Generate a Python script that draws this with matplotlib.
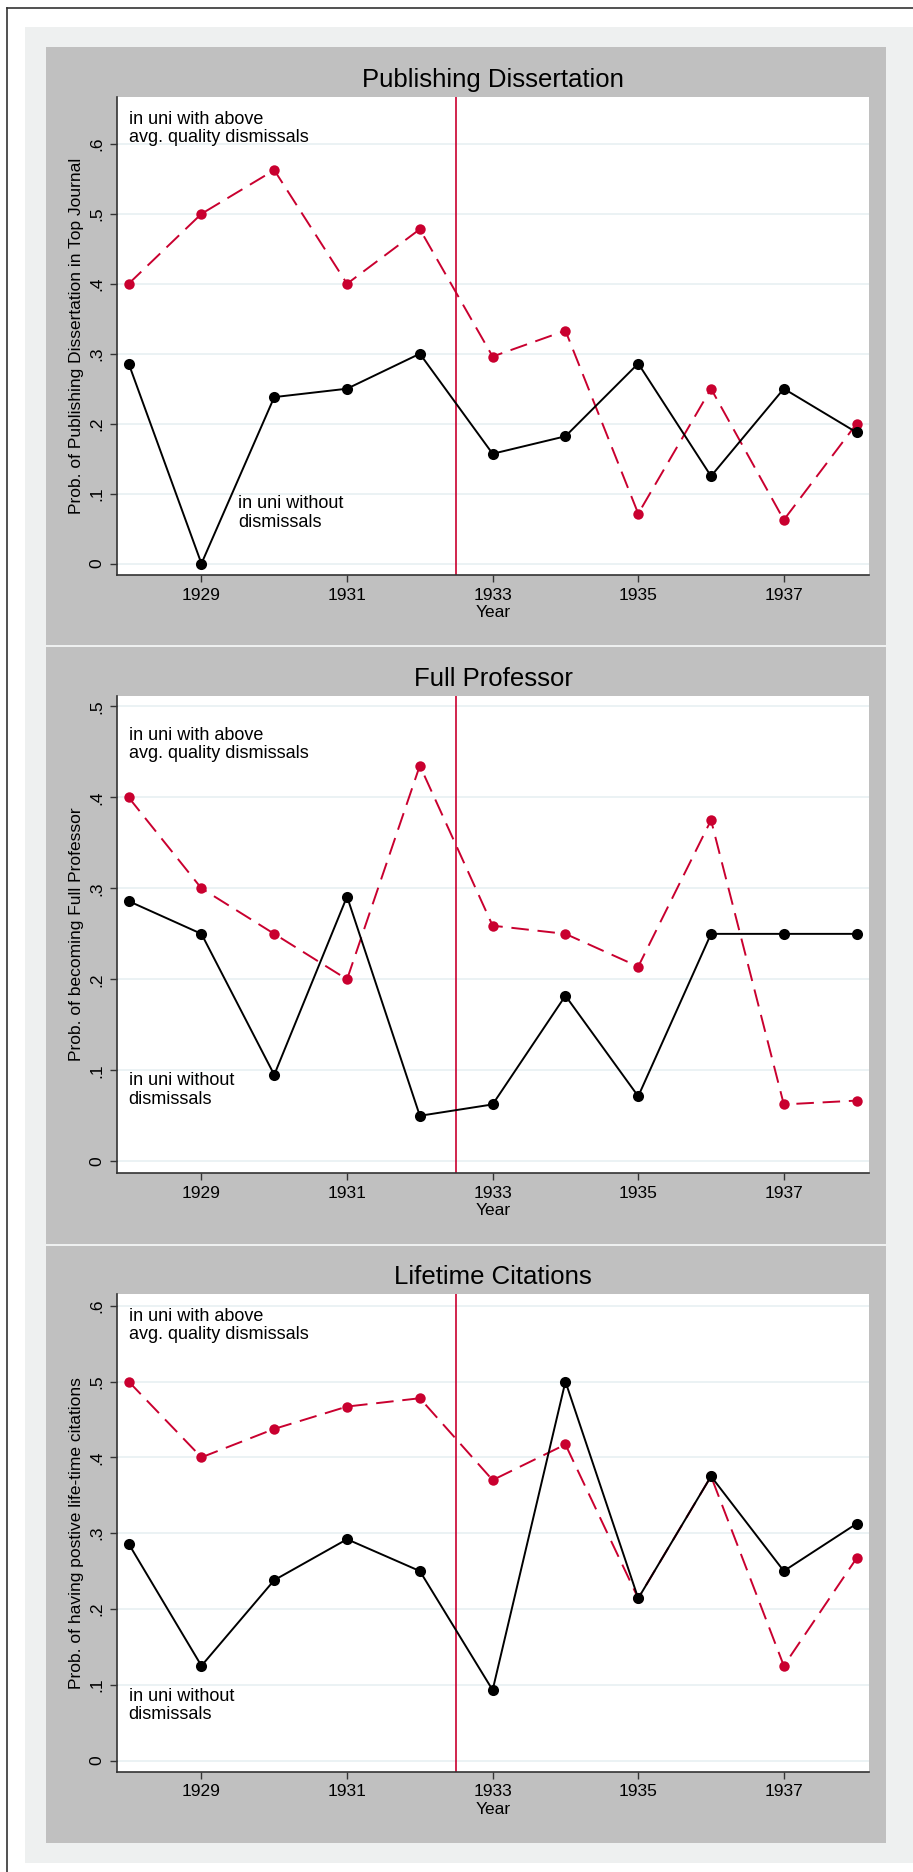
import matplotlib
matplotlib.use("Agg")
import matplotlib.pyplot as plt
from matplotlib.patches import Rectangle
from matplotlib.lines import Line2D

plt.rcParams['font.family'] = ['Liberation Sans', 'DejaVu Sans']

years = [1928, 1929, 1930, 1931, 1932, 1933, 1934, 1935, 1936, 1937, 1938]

pub_without = [0.286, 0.0, 0.238, 0.25, 0.3, 0.157, 0.182, 0.286, 0.125, 0.25, 0.1875]
pub_above = [0.4, 0.5, 0.5625, 0.4, 0.478, 0.296, 0.333, 0.0714, 0.25, 0.0625, 0.2]

prof_without = [0.286, 0.25, 0.095, 0.291, 0.05, 0.0625, 0.182, 0.0714, 0.25, 0.25, 0.25]
prof_above = [0.4, 0.3, 0.25, 0.2, 0.435, 0.259, 0.25, 0.214, 0.375, 0.0625, 0.0667]

cit_without = [0.286, 0.125, 0.238, 0.292, 0.25, 0.093, 0.5, 0.214, 0.375, 0.25, 0.3125]
cit_above = [0.5, 0.4, 0.4375, 0.467, 0.478, 0.37, 0.417, 0.214, 0.375, 0.125, 0.267]

titles = ["Publishing Dissertation", "Full Professor", "Lifetime Citations"]
ylabels = ["Prob. of Publishing Dissertation in Top Journal",
           "Prob. of becoming Full Professor",
           "Prob. of having postive life-time citations"]
yticks = [[0, .1, .2, .3, .4, .5, .6], [0, .1, .2, .3, .4, .5], [0, .1, .2, .3, .4, .5, .6]]
ytick_labels = [["0", ".1", ".2", ".3", ".4", ".5", ".6"],
                ["0", ".1", ".2", ".3", ".4", ".5"],
                ["0", ".1", ".2", ".3", ".4", ".5", ".6"]]
xticks = [1929, 1931, 1933, 1935, 1937]
cutoff = 1932.5

upper_text = "in uni with above\navg. quality dismissals"
lower_text = "in uni without\ndismissals"

W, H = 913, 1872
RED = '#C9002F'
GRID = '#E8F0F2'
LTGRAY = '#EEF0F0'
PANEL = '#C0C0C0'

fig = plt.figure(figsize=(W / 100, H / 100), dpi=100, facecolor='white')


def rect(x0, y0, x1, y1, color):
    fig.patches.append(Rectangle((x0 / W, 1 - y1 / H), (x1 - x0) / W, (y1 - y0) / H,
                                 transform=fig.transFigure, facecolor=color,
                                 edgecolor='none', zorder=-10))


# outer frame pieces
fig.lines.append(Line2D([7 / W, 1], [1 - 8 / H, 1 - 8 / H], transform=fig.transFigure,
                        color='#333333', lw=1.2, zorder=-10))
fig.lines.append(Line2D([7 / W, 7 / W], [0, 1 - 8 / H], transform=fig.transFigure,
                        color='#333333', lw=1.2, zorder=-10))
rect(25, 27, 913, 1863, LTGRAY)

panels = [(47, 644.5), (646.5, 1243.5), (1245.5, 1843)]
for (t, b) in panels:
    rect(46, t, 886, b, PANEL)

plots = [(97, 575), (696, 1173), (1294, 1772)]
ylims = [(-0.0163, 0.667), (-0.0129, 0.5115), (-0.0151, 0.6155)]
series = [(pub_without, pub_above), (prof_without, prof_above), (cit_without, cit_above)]
upper_pos = [0.622, 0.458, 0.5735]
lower_pos = [(1929.5, 0.0725), (1928.0, 0.0785), (1928.0, 0.073)]

for i in range(3):
    top, bot = plots[i]
    ax = fig.add_axes([117 / W, 1 - bot / H, (869 - 117) / W, (bot - top) / H])
    ax.set_facecolor('white')
    ax.set_xlim(1927.84, 1938.17)
    ax.set_ylim(*ylims[i])
    for yv in yticks[i]:
        ax.axhline(yv, color=GRID, lw=1.2, zorder=0)
    ax.axvline(cutoff, color=RED, lw=1.2, zorder=1)

    without, above = series[i]
    ax.plot(years, above, color=RED, lw=1.4, dashes=(9, 4.5), marker='o',
            markersize=7.5, markeredgewidth=0, zorder=2)
    ax.plot(years, without, color='black', lw=1.4, marker='o',
            markersize=8, markeredgewidth=0, zorder=3)

    ax.text(1928.0, upper_pos[i], upper_text, fontsize=13, va='center', ha='left',
            linespacing=1.1)
    lx, ly = lower_pos[i]
    ax.text(lx, ly, lower_text, fontsize=13, va='center', ha='left', linespacing=1.1)

    ax.set_xticks(xticks)
    ax.set_xticklabels([str(x) for x in xticks])
    ax.set_yticks(yticks[i])
    ax.set_yticklabels(ytick_labels[i], rotation=90, va='center')
    ax.tick_params(axis='both', length=5, width=1.0, color='#333333', labelsize=12.5, pad=4)
    for s in ['top', 'right']:
        ax.spines[s].set_visible(False)
    for s in ['left', 'bottom']:
        ax.spines[s].set_color('#333333')
        ax.spines[s].set_linewidth(1.2)
    ax.set_xlabel("Year", fontsize=12.5, labelpad=2)
    ax.set_ylabel(ylabels[i], fontsize=12.5, labelpad=4)
    ax.set_title(titles[i], fontsize=18.5, pad=7)

fig.savefig("out.png", dpi=100, facecolor='white')
